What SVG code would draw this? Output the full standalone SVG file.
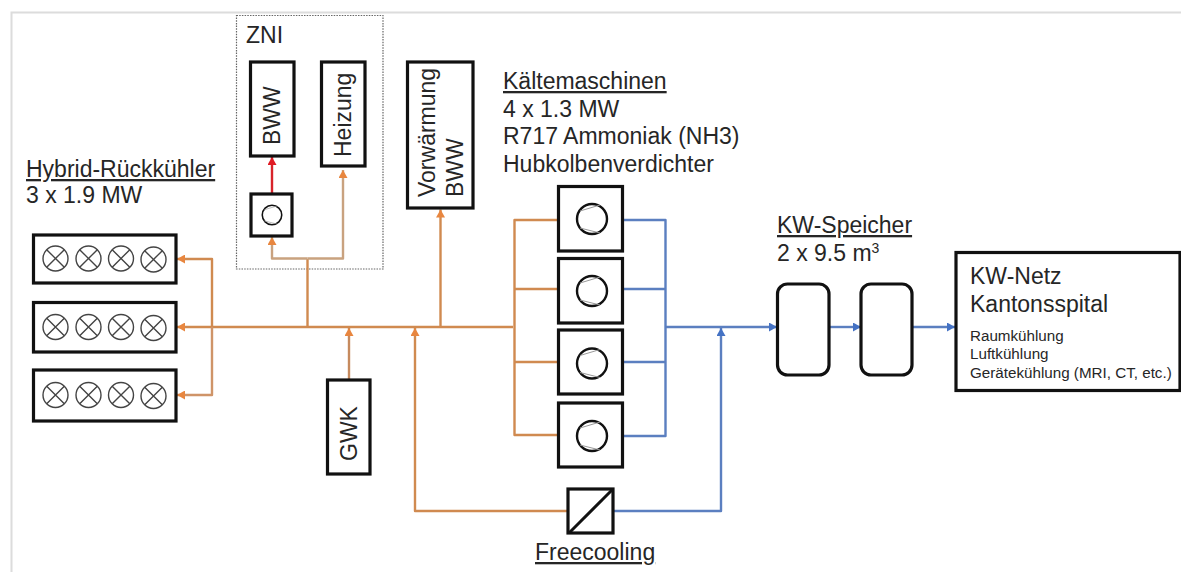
<svg xmlns="http://www.w3.org/2000/svg" width="1181" height="572" viewBox="0 0 1181 572">
<style>
text{font-family:"Liberation Sans",Arial,sans-serif;fill:#262626;font-size:23px}
.u{text-decoration:underline}
.s{font-size:15.200px}
.box{fill:#fff;stroke:#111;stroke-width:3.2}
.fan{fill:none;stroke:#444;stroke-width:1.4}
.ring{fill:#fff;stroke:#111;stroke-width:2.4}
.vane{fill:none;stroke:#999;stroke-width:1}
.o{fill:none;stroke:#d08a50;stroke-width:2.4;stroke-linejoin:round}
.z{fill:none;stroke:#c9a27f;stroke-width:2.4;stroke-linejoin:round}
.b{fill:none;stroke:#5b7fc0;stroke-width:2.4;stroke-linejoin:round}
.r{fill:none;stroke:#d8232a;stroke-width:2.4}
</style>
<defs>
<marker id="ao" markerUnits="userSpaceOnUse" markerWidth="9" markerHeight="9" refX="8" refY="4.500" orient="auto"><path d="M0 0L8 4.500L0 9Z" fill="#e8863f"/></marker>
<marker id="ab" markerUnits="userSpaceOnUse" markerWidth="9" markerHeight="9" refX="8" refY="4.500" orient="auto"><path d="M0 0L8 4.500L0 9Z" fill="#4472c4"/></marker>
<marker id="ar" markerUnits="userSpaceOnUse" markerWidth="9" markerHeight="9" refX="8" refY="4.500" orient="auto"><path d="M0 0L8 4.500L0 9Z" fill="#e01b24"/></marker>
<g id="fan"><circle r="12.500" class="fan"/><path class="fan" d="M-8.800-8.800L8.800 8.800M-8.800 8.800L8.800-8.800"/></g>
<g id="fans"><use href="#fan" x="55.500"/><use href="#fan" x="88.500"/><use href="#fan" x="121"/><use href="#fan" x="153.500" y="1"/></g>
<g id="comp"><circle r="15" class="ring"/><path class="vane" d="M-12-8L8-14M-12 9L8 14"/></g>
</defs>
<path id="frame" d="M11.500 572V12.500H1181" fill="none" stroke="#dcdcdc" stroke-width="2"/>
<g id="zni"><rect x="236.500" y="15.500" width="146.500" height="253.500" fill="none" stroke="#666" stroke-width="1.200" stroke-dasharray="1.500 1.200"/><text x="246" y="43">ZNI</text></g>
<g id="connectors">
<path class="o" d="M513 327H177" marker-end="url(#ao)"/>
<path class="o" d="M212 327V259H177" marker-end="url(#ao)"/>
<path class="z" d="M212 327V395H177" marker-end="url(#ao)" style="stroke:#cf9468"/>
<path class="o" d="M307.500 327V259"/>
<path class="z" d="M307.500 258.500H272V237" marker-end="url(#ao)"/>
<path class="z" d="M307.500 258.500H343V170" marker-end="url(#ao)"/>
<path class="r" d="M272 194V157" marker-end="url(#ar)"/>
<path class="o" d="M440.500 327V209.500" marker-end="url(#ao)"/>
<path class="z" d="M349 380V328" marker-end="url(#ao)" style="stroke:#c68a5e"/>
<path class="o" d="M568 511H415V328" marker-end="url(#ao)"/>
<path class="o" d="M558 220H514.500V435H558M514.500 289H558M514.500 362H558"/>
<path class="b" d="M622 220H665.500V436H622M665.500 289H622M665.500 362H622"/>
<path class="b" d="M665.500 327H777" marker-end="url(#ab)"/>
<path class="b" d="M613 511H721V328" marker-end="url(#ab)"/>
<path class="b" d="M829 327H861" marker-end="url(#ab)"/>
<path class="b" d="M912 327H955" marker-end="url(#ab)"/>
</g>
<g id="bww"><rect class="box" x="250.500" y="62" width="43.500" height="94"/><text transform="translate(280 145) rotate(-90)">BWW</text></g>
<g id="heizung"><rect class="box" x="321.500" y="62" width="43.500" height="104"/><text transform="translate(351 157) rotate(-90)">Heizung</text></g>
<g id="zni-pump"><rect class="box" x="251" y="194" width="41" height="42"/><use href="#comp" transform="translate(272 215) scale(.65)"/></g>
<g id="vorwaermung"><rect class="box" x="407.500" y="62" width="65.500" height="146"/><text transform="translate(435 197) rotate(-90)">Vorwärmung</text><text transform="translate(463 197) rotate(-90)">BWW</text></g>
<g id="rueckkuehler-label"><text class="u" x="26" y="177">Hybrid-Rückkühler</text><text x="26" y="203">3 x 1.9 MW</text></g>
<g id="rk1"><rect class="box" x="33.500" y="235" width="142.500" height="48"/><use href="#fans" y="258.500"/></g>
<g id="rk2"><rect class="box" x="33.500" y="302.500" width="142.500" height="49.500"/><use href="#fans" y="327"/></g>
<g id="rk3"><rect class="box" x="33.500" y="370" width="142.500" height="51"/><use href="#fans" y="395"/></g>
<g id="gwk"><rect class="box" x="327.500" y="380" width="42.500" height="94"/><text transform="translate(357 461) rotate(-90)">GWK</text></g>
<g id="kaelte-label"><text class="u" x="503" y="89">Kältemaschinen</text><text x="503" y="117">4 x 1.3 MW</text><text x="503" y="144">R717 Ammoniak (NH3)</text><text x="503" y="172">Hubkolbenverdichter</text></g>
<g id="km1"><rect class="box" x="558.500" y="186.500" width="64" height="64.500"/><use href="#comp" x="592" y="219"/></g>
<g id="km2"><rect class="box" x="558.500" y="258.500" width="64" height="64.500"/><use href="#comp" x="592" y="291"/></g>
<g id="km3"><rect class="box" x="558.500" y="330" width="64" height="64"/><use href="#comp" x="592" y="363.500"/></g>
<g id="km4"><rect class="box" x="558.500" y="403" width="64" height="64"/><use href="#comp" x="592" y="436"/></g>
<g id="freecooling"><rect class="box" x="568" y="489" width="45" height="44"/><path d="M569 533L613 489" stroke="#111" stroke-width="3" fill="none"/><text class="u" x="535" y="560">Freecooling</text></g>
<g id="speicher-label"><text class="u" x="777" y="233">KW-Speicher</text><text x="777" y="261">2 x 9.5 m<tspan font-size="14" dy="-8">3</tspan></text></g>
<g id="sp1"><rect class="box" x="777.500" y="284" width="51.500" height="91" rx="10"/></g>
<g id="sp2"><rect class="box" x="861" y="284" width="51" height="91" rx="10"/></g>
<g id="kwnetz"><rect class="box" x="956" y="252.500" width="224" height="138"/><text x="970" y="284">KW-Netz</text><text x="970" y="312">Kantonsspital</text><text class="s" x="970" y="341">Raumkühlung</text><text class="s" x="970" y="359">Luftkühlung</text><text class="s" x="970" y="378">Gerätekühlung (MRI, CT, etc.)</text></g>
</svg>
